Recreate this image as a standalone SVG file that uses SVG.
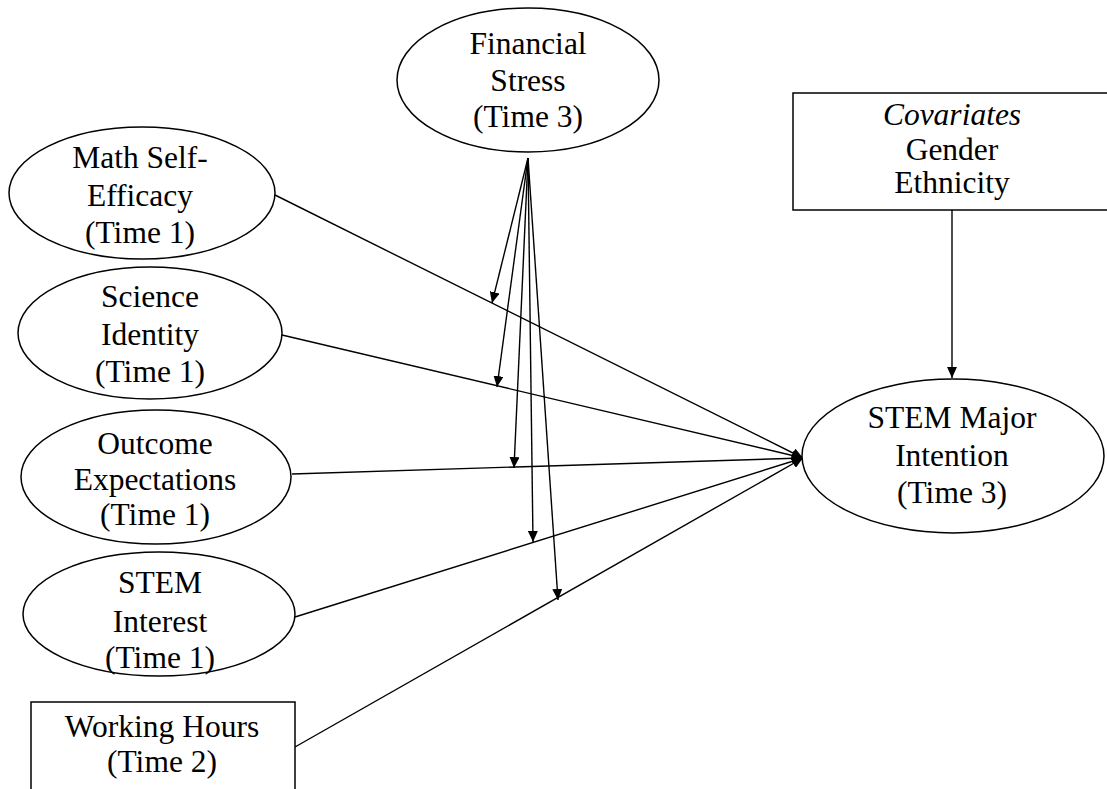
<svg xmlns="http://www.w3.org/2000/svg" width="1107" height="789" viewBox="0 0 1107 789">
<style>
.shape{fill:#fff;stroke:#000;stroke-width:1.5}
.t{font-family:"Liberation Serif","Times New Roman",serif;font-size:31.5px;fill:#000;text-anchor:middle}
.it{font-style:italic}
.c{stroke:#000;stroke-width:1.4;fill:none;marker-end:url(#ah)}
</style>
<defs>
<marker id="ah" markerUnits="userSpaceOnUse" markerWidth="12" markerHeight="10" refX="11" refY="5" orient="auto">
<path d="M0,0 L11,5 L0,10 Z" fill="#000"/>
</marker>
</defs>
<rect width="1107" height="789" fill="#fff"/>
<g id="connectors">
<line class="c" x1="275" y1="195" x2="803" y2="458"/>
<line class="c" x1="282" y1="335" x2="803" y2="458"/>
<line class="c" x1="292" y1="474" x2="803" y2="458"/>
<line class="c" x1="295" y1="617" x2="803" y2="458"/>
<line class="c" x1="295" y1="747" x2="803" y2="458"/>
<line class="c" x1="952" y1="210" x2="952" y2="378"/>
<line class="c" x1="528" y1="158" x2="492" y2="303"/>
<line class="c" x1="528" y1="158" x2="497" y2="387"/>
<line class="c" x1="528" y1="158" x2="514" y2="468"/>
<line class="c" x1="528" y1="158" x2="533" y2="542"/>
<line class="c" x1="528" y1="158" x2="558" y2="600"/>
</g>
<g id="financial-stress">
<ellipse class="shape" cx="528" cy="80" rx="131" ry="72"/>
<text class="t" x="528" y="54">Financial</text>
<text class="t" x="528" y="91">Stress</text>
<text class="t" x="528" y="127">(Time 3)</text>
</g>
<g id="math-self-efficacy">
<ellipse class="shape" cx="142" cy="193" rx="133" ry="66"/>
<text class="t" x="140" y="168">Math Self-</text>
<text class="t" x="140" y="206">Efficacy</text>
<text class="t" x="140" y="243">(Time 1)</text>
</g>
<g id="science-identity">
<ellipse class="shape" cx="150" cy="333" rx="132" ry="66"/>
<text class="t" x="150" y="307">Science</text>
<text class="t" x="150" y="345">Identity</text>
<text class="t" x="150" y="382">(Time 1)</text>
</g>
<g id="outcome-expectations">
<ellipse class="shape" cx="156" cy="477" rx="135" ry="67"/>
<text class="t" x="155" y="454">Outcome</text>
<text class="t" x="155" y="490">Expectations</text>
<text class="t" x="155" y="525">(Time 1)</text>
</g>
<g id="stem-interest">
<ellipse class="shape" cx="159" cy="614" rx="136" ry="62"/>
<text class="t" x="160" y="593">STEM</text>
<text class="t" x="160" y="632">Interest</text>
<text class="t" x="160" y="668">(Time 1)</text>
</g>
<g id="working-hours">
<rect class="shape" x="31" y="702" width="264" height="110"/>
<text class="t" x="162" y="737">Working Hours</text>
<text class="t" x="162" y="772">(Time 2)</text>
</g>
<g id="covariates">
<rect class="shape" x="793" y="93" width="320" height="117"/>
<text class="t it" x="952" y="125">Covariates</text>
<text class="t" x="952" y="160">Gender</text>
<text class="t" x="952" y="193">Ethnicity</text>
</g>
<g id="stem-major-intention">
<ellipse class="shape" cx="953" cy="456" rx="151" ry="77"/>
<text class="t" x="952" y="428">STEM Major</text>
<text class="t" x="952" y="466">Intention</text>
<text class="t" x="952" y="503">(Time 3)</text>
</g>
</svg>
